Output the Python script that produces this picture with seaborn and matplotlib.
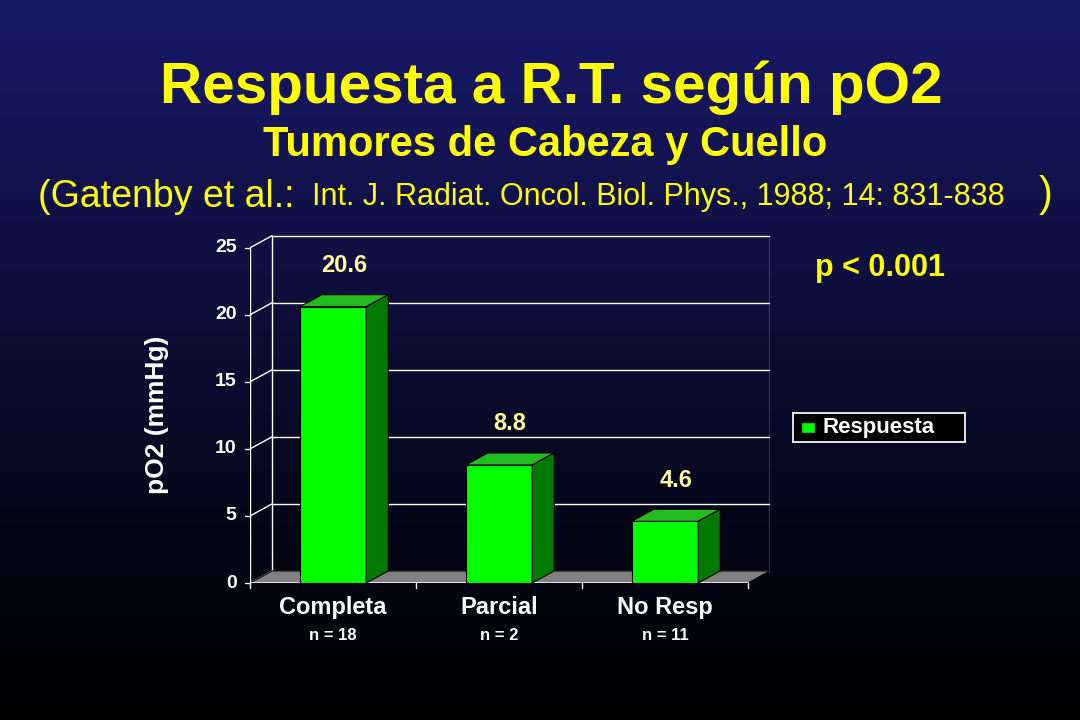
import numpy as np
import pandas as pd
import seaborn as sns
import matplotlib.pyplot as plt
from matplotlib.patches import Polygon

sns.set_theme()
sns.set_style('white')
plt.rcParams['font.family'] = ['Liberation Sans', 'DejaVu Sans']

categories = ['Completa', 'Parcial', 'No Resp']
values = [20.6, 8.8, 4.6]
n_labels = ['n = 18', 'n = 2', 'n = 11']
yticks = [0, 5, 10, 15, 20, 25]

df = pd.DataFrame({'cat': categories, 'val': values})
yellow = '#FFFF00'
dx, dy = 0.133, 0.9  # depth offset in data units

fig = plt.figure(figsize=(10.8, 7.2), dpi=100)
bg = fig.add_axes([0, 0, 1, 1])
grad = np.linspace(0, 1, 256)[:, None]
cols = np.array([0.1, 0.1, 0.42])[None, None, :] * (1 - grad[:, :, None]) ** 1.1
bg.imshow(np.repeat(cols, 2, axis=1), aspect='auto', extent=[0, 1, 0, 1])
bg.axis('off')

ax = fig.add_axes([250 / 1080, 137 / 720, 520 / 1080, 350 / 720])
ax.set_facecolor('none')
sns.barplot(data=df, x='cat', y='val', color='#00FF00', width=0.4,
            saturation=1, edgecolor='black', linewidth=0.8, ax=ax, zorder=3)
ax.set_xlim(-0.5, 2.5 + dx)
ax.set_ylim(0, 26.1)
ax.axis('off')

# floor and back wall
ax.add_patch(Polygon([(-0.5, 0), (2.5, 0), (2.5 + dx, dy), (-0.5 + dx, dy)],
                     closed=True, facecolor='#808080', edgecolor='black', lw=0.8, zorder=1))
for t in yticks:
    ax.plot([-0.5 + dx, 2.5 + dx], [t + dy, t + dy], color='white', lw=1, zorder=0)
    ax.plot([-0.5, -0.5 + dx], [t, t + dy], color='white', lw=1, zorder=0)
    ax.plot([-0.53, -0.5], [t, t], color='white', lw=1, clip_on=False)
    ax.text(-0.58, t, str(t), color='white', fontsize=14, fontweight='bold',
            ha='right', va='center')
ax.plot([-0.5 + dx] * 2, [dy, 25 + dy], color='white', lw=1, zorder=0)
ax.plot([2.5 + dx] * 2, [dy, 25 + dy], color='white', lw=1, zorder=0)
ax.plot([-0.5, -0.5], [0, 25], color='white', lw=1, zorder=0)
ax.plot([-0.5, 2.5], [0, 0], color='white', lw=1.2, zorder=2)
for xt in [-0.5, 0.5, 1.5, 2.5]:
    ax.plot([xt, xt], [0, -0.4], color='white', lw=1, clip_on=False)

# 3D faces
for p, v in zip(ax.patches[:len(values)], values):
    x0, w = p.get_x(), p.get_width()
    ax.add_patch(Polygon([(x0, v), (x0 + w, v), (x0 + w + dx, v + dy), (x0 + dx, v + dy)],
                         facecolor='#22BB22', edgecolor='black', lw=0.8, zorder=3))
    ax.add_patch(Polygon([(x0 + w, 0), (x0 + w + dx, dy), (x0 + w + dx, v + dy), (x0 + w, v)],
                         facecolor='#007A00', edgecolor='black', lw=0.8, zorder=3))
    ax.text(x0 + w / 2 + dx / 2, v + dy + 1.3, f'{v}', color='#FFFF99',
            fontsize=17, fontweight='bold', ha='center', va='bottom')

for i, (c, n) in enumerate(zip(categories, n_labels)):
    ax.text(i, -1.8, c, color='white', fontsize=17, fontweight='bold', ha='center', va='center')
    ax.text(i, -3.9, n, color='white', fontsize=12, fontweight='bold', ha='center', va='center')

fig.text(157 / 1080, 1 - 415 / 720, 'pO2 (mmHg)', color='white', fontsize=19,
         fontweight='bold', rotation=90, ha='center', va='center')

fig.text(551 / 1080, 1 - 88 / 720, 'Respuesta a R.T. según pO2', color=yellow,
         fontsize=42, fontweight='bold', ha='center', va='center')
fig.text(545 / 1080, 1 - 145 / 720, 'Tumores de Cabeza y Cuello', color=yellow,
         fontsize=30, fontweight='bold', ha='center', va='center')
fig.text(38 / 1080, 1 - 197 / 720, '(Gatenby et al.:', color=yellow, fontsize=27,
         ha='left', va='center')
fig.text(312 / 1080, 1 - 197 / 720, 'Int. J. Radiat. Oncol. Biol. Phys., 1988; 14: 831-838',
         color=yellow, fontsize=22, ha='left', va='center')
fig.text(1039 / 1080, 1 - 195 / 720, ')', color=yellow, fontsize=30, ha='left', va='center')
fig.text(880 / 1080, 1 - 268 / 720, 'p < 0.001', color=yellow, fontsize=22,
         fontweight='bold', ha='center', va='center')

# legend
lax = fig.add_axes([793 / 1080, 1 - 442 / 720, 172 / 1080, 29 / 720])
lax.set_facecolor('black')
lax.set_xticks([]); lax.set_yticks([])
for s in lax.spines.values():
    s.set_color('white')
lax.set_xlim(0, 172); lax.set_ylim(0, 29)
lax.add_patch(plt.Rectangle((8, 9), 14, 11, facecolor='#00FF00', edgecolor='black'))
lax.text(30, 14.5, 'Respuesta', color='white', fontsize=16, fontweight='bold', va='center')

fig.savefig('out.png', dpi=100)
